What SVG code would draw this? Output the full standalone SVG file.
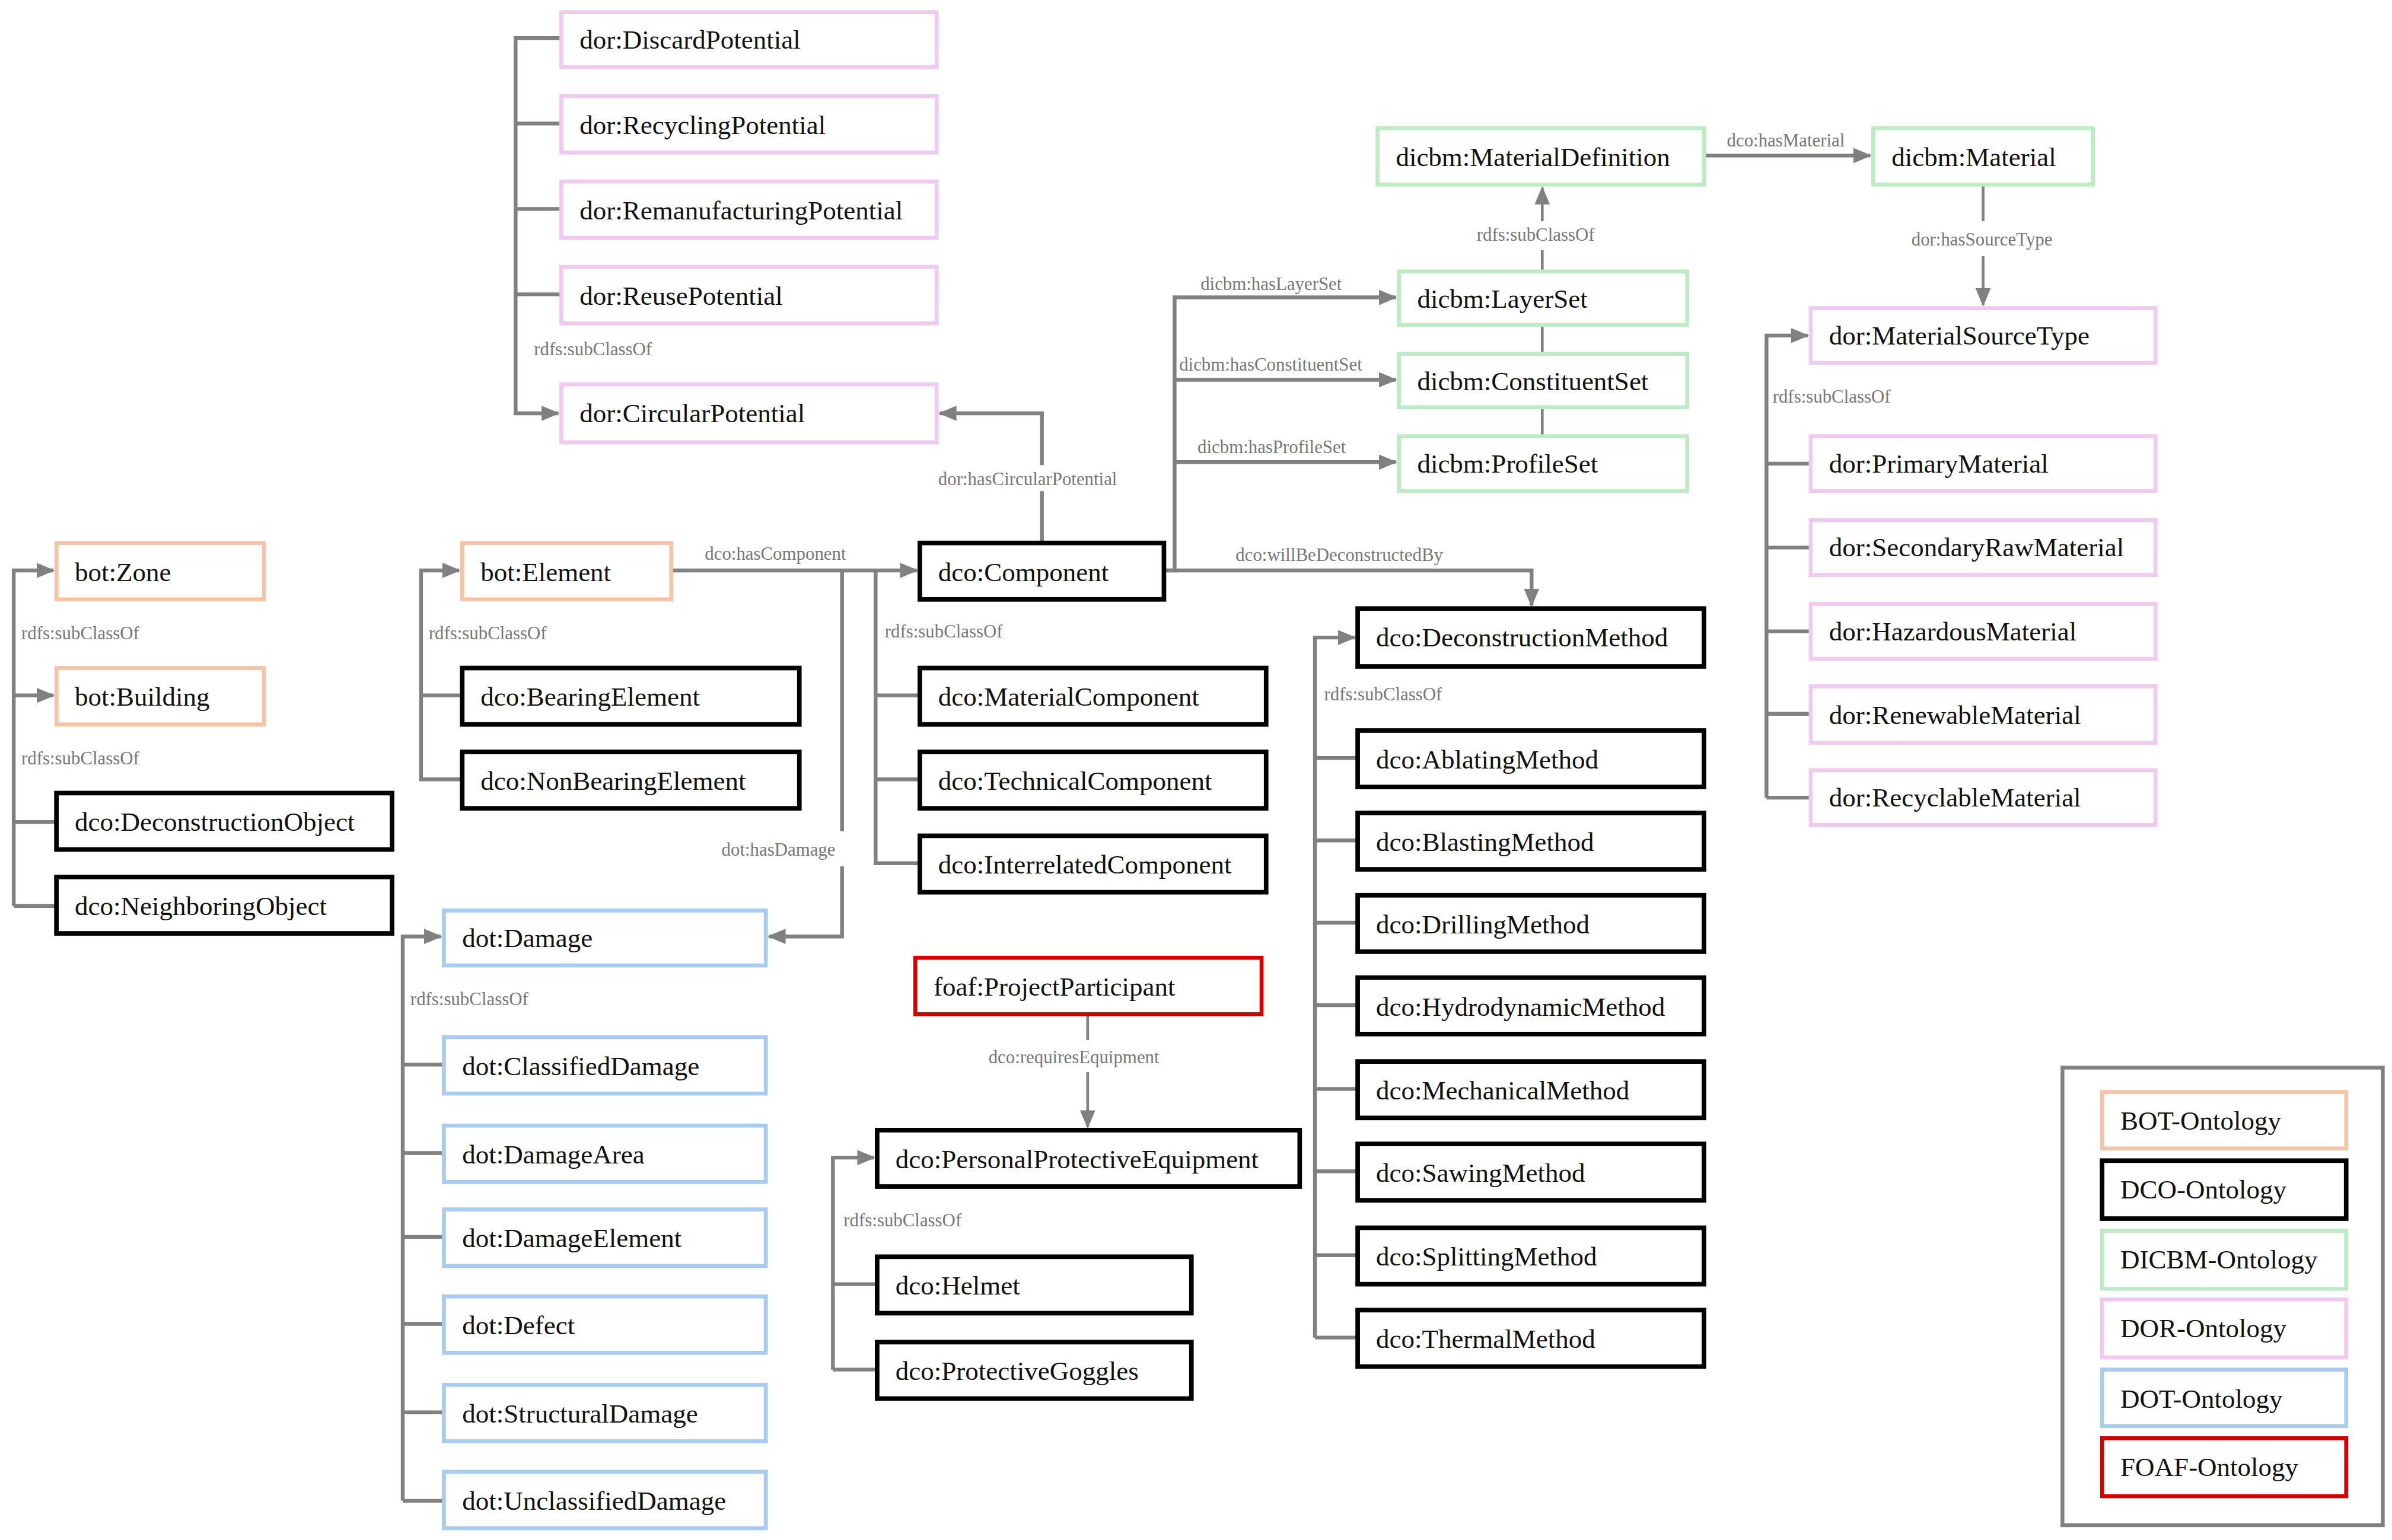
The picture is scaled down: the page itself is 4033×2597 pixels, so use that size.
<svg xmlns="http://www.w3.org/2000/svg" width="4033" height="2597" viewBox="0 0 4033 2597">
<style>
.n rect{fill:#fff;stroke-width:2.6}
.n text{font-family:"Liberation Serif",serif;font-size:17.5px;fill:#111;dominant-baseline:central}
.bot rect{stroke:#f7c3a6}.dco rect{stroke:#000;stroke-width:3}.dicbm rect{stroke:#bdebc3}.dor rect{stroke:#f0c9ee}.dot rect{stroke:#a9cbef}.foaf rect{stroke:#d40000}
#edges path{fill:none;stroke:#808080;stroke-width:2.5}
#edges .a{marker-end:url(#ah)}
#edges .t{stroke-width:1.8}
.l{font-family:"Liberation Serif",serif;font-size:12px;fill:#777}
</style>
<defs><marker id="ah" markerUnits="userSpaceOnUse" markerWidth="12" markerHeight="12" viewBox="0 0 12 12" refX="11" refY="6" orient="auto"><path d="M0,1 L12,6 L0,11 z" fill="#808080"/></marker></defs>
<rect width="4033" height="2597" fill="#fff"/>
<g transform="scale(2.572)">
<g id="edges">
<path d="M368,25 H338 V271 H366" class="a"/><path d="M338,81 H368 M338,137 H368 M338,193 H368"/>
<path d="M9,594 V374 H35" class="a"/><path d="M9,456 H35" class="a"/><path d="M9,539 H37 M9,594 H37"/>
<path d="M303,511 H276 V374 H301" class="a"/><path d="M276,456 H303"/>
<path d="M440,374 H601" class="a"/>
<path d="M574,374 V566 H603 M574,456 H603 M574,511 H603"/>
<path d="M552,374 V545"/><path d="M552,568 V614 H504" class="a"/>
<path d="M264,984 V614 H289" class="a"/><path d="M264,698 H291 M264,756 H291 M264,811 H291 M264,868 H291 M264,926 H291 M264,984 H291"/>
<path d="M683,356 V322"/><path d="M683,305 V271 H616" class="a"/>
<path d="M763,374 H770 V195 H915" class="a"/><path d="M770,249 H915" class="a"/><path d="M770,303 H915" class="a"/>
<path d="M763,374 H1004 V397" class="a"/>
<path class="t" d="M1011,213 V232 M1011,267 V286 M1011,178 V164"/><path class="t a" d="M1011,145 V123"/>
<path d="M1117,102 H1226" class="a"/>
<path class="t" d="M1300,121 V145"/><path class="t a" d="M1300,168 V200"/>
<path d="M1158,523 V220 H1185" class="a"/><path d="M1158,304 H1187 M1158,359 H1187 M1158,414 H1187 M1158,468 H1187 M1158,523 H1187"/>
<path d="M862,877 V418 H888" class="a"/><path d="M862,497 H890 M862,551 H890 M862,605 H890 M862,659 H890 M862,714 H890 M862,768 H890 M862,823 H890 M862,877 H890"/>
<path class="t" d="M713,665 V682"/><path class="t a" d="M713,703 V739"/>
<path d="M546,898 V759 H573" class="a"/><path d="M546,842 H575 M546,898 H575"/>
</g>
<g>
<text class="l" x="350" y="233">rdfs:subClassOf</text>
<text class="l" x="14" y="419">rdfs:subClassOf</text>
<text class="l" x="14" y="501">rdfs:subClassOf</text>
<text class="l" x="281" y="419">rdfs:subClassOf</text>
<text class="l" x="462" y="367">dco:hasComponent</text>
<text class="l" x="580" y="418">rdfs:subClassOf</text>
<text class="l" x="473" y="561">dot:hasDamage</text>
<text class="l" x="269" y="659">rdfs:subClassOf</text>
<text class="l" x="615" y="318">dor:hasCircularPotential</text>
<text class="l" x="787" y="190">dicbm:hasLayerSet</text>
<text class="l" x="773" y="243">dicbm:hasConstituentSet</text>
<text class="l" x="785" y="297">dicbm:hasProfileSet</text>
<text class="l" x="810" y="368">dco:willBeDeconstructedBy</text>
<text class="l" x="968" y="158">rdfs:subClassOf</text>
<text class="l" x="1132" y="96">dco:hasMaterial</text>
<text class="l" x="1253" y="161">dor:hasSourceType</text>
<text class="l" x="1162" y="264">rdfs:subClassOf</text>
<text class="l" x="868" y="459">rdfs:subClassOf</text>
<text class="l" x="648" y="697">dco:requiresEquipment</text>
<text class="l" x="553" y="804">rdfs:subClassOf</text>
</g>
<g id="dor_DiscardPotential" class="n dor"><rect x="368" y="8" width="246" height="36"/><text x="380" y="26">dor:DiscardPotential</text></g>
<g id="dor_RecyclingPotential" class="n dor"><rect x="368" y="63" width="246" height="37"/><text x="380" y="82">dor:RecyclingPotential</text></g>
<g id="dor_RemanufacturingPotential" class="n dor"><rect x="368" y="119" width="246" height="37"/><text x="380" y="138">dor:RemanufacturingPotential</text></g>
<g id="dor_ReusePotential" class="n dor"><rect x="368" y="175" width="246" height="37"/><text x="380" y="194">dor:ReusePotential</text></g>
<g id="dor_CircularPotential" class="n dor"><rect x="368" y="252" width="246" height="38"/><text x="380" y="271">dor:CircularPotential</text></g>
<g id="bot_Zone" class="n bot"><rect x="37" y="356" width="136" height="37"/><text x="49" y="375">bot:Zone</text></g>
<g id="bot_Building" class="n bot"><rect x="37" y="438" width="136" height="37"/><text x="49" y="457">bot:Building</text></g>
<g id="dco_DeconstructionObject" class="n dco"><rect x="37" y="520" width="220" height="37"/><text x="49" y="539">dco:DeconstructionObject</text></g>
<g id="dco_NeighboringObject" class="n dco"><rect x="37" y="575" width="220" height="37"/><text x="49" y="594">dco:NeighboringObject</text></g>
<g id="bot_Element" class="n bot"><rect x="303" y="356" width="137" height="37"/><text x="315" y="375">bot:Element</text></g>
<g id="dco_BearingElement" class="n dco"><rect x="303" y="438" width="221" height="37"/><text x="315" y="457">dco:BearingElement</text></g>
<g id="dco_NonBearingElement" class="n dco"><rect x="303" y="493" width="221" height="37"/><text x="315" y="512">dco:NonBearingElement</text></g>
<g id="dco_Component" class="n dco"><rect x="603" y="356" width="160" height="37"/><text x="615" y="375">dco:Component</text></g>
<g id="dco_MaterialComponent" class="n dco"><rect x="603" y="438" width="227" height="37"/><text x="615" y="457">dco:MaterialComponent</text></g>
<g id="dco_TechnicalComponent" class="n dco"><rect x="603" y="493" width="227" height="37"/><text x="615" y="512">dco:TechnicalComponent</text></g>
<g id="dco_InterrelatedComponent" class="n dco"><rect x="603" y="548" width="227" height="37"/><text x="615" y="567">dco:InterrelatedComponent</text></g>
<g id="dot_Damage" class="n dot"><rect x="291" y="597" width="211" height="36"/><text x="303" y="615">dot:Damage</text></g>
<g id="dot_ClassifiedDamage" class="n dot"><rect x="291" y="680" width="211" height="37"/><text x="303" y="699">dot:ClassifiedDamage</text></g>
<g id="dot_DamageArea" class="n dot"><rect x="291" y="738" width="211" height="37"/><text x="303" y="757">dot:DamageArea</text></g>
<g id="dot_DamageElement" class="n dot"><rect x="291" y="793" width="211" height="37"/><text x="303" y="812">dot:DamageElement</text></g>
<g id="dot_Defect" class="n dot"><rect x="291" y="850" width="211" height="37"/><text x="303" y="869">dot:Defect</text></g>
<g id="dot_StructuralDamage" class="n dot"><rect x="291" y="908" width="211" height="37"/><text x="303" y="927">dot:StructuralDamage</text></g>
<g id="dot_UnclassifiedDamage" class="n dot"><rect x="291" y="965" width="211" height="37"/><text x="303" y="984">dot:UnclassifiedDamage</text></g>
<g id="dicbm_MaterialDefinition" class="n dicbm"><rect x="903" y="84" width="214" height="37"/><text x="915" y="103">dicbm:MaterialDefinition</text></g>
<g id="dicbm_Material" class="n dicbm"><rect x="1228" y="84" width="144" height="37"/><text x="1240" y="103">dicbm:Material</text></g>
<g id="dicbm_LayerSet" class="n dicbm"><rect x="917" y="178" width="189" height="35"/><text x="929" y="196">dicbm:LayerSet</text></g>
<g id="dicbm_ConstituentSet" class="n dicbm"><rect x="917" y="232" width="189" height="35"/><text x="929" y="250">dicbm:ConstituentSet</text></g>
<g id="dicbm_ProfileSet" class="n dicbm"><rect x="917" y="286" width="189" height="36"/><text x="929" y="304">dicbm:ProfileSet</text></g>
<g id="dor_MaterialSourceType" class="n dor"><rect x="1187" y="202" width="226" height="36"/><text x="1199" y="220">dor:MaterialSourceType</text></g>
<g id="dor_PrimaryMaterial" class="n dor"><rect x="1187" y="286" width="226" height="36"/><text x="1199" y="304">dor:PrimaryMaterial</text></g>
<g id="dor_SecondaryRawMaterial" class="n dor"><rect x="1187" y="341" width="226" height="36"/><text x="1199" y="359">dor:SecondaryRawMaterial</text></g>
<g id="dor_HazardousMaterial" class="n dor"><rect x="1187" y="396" width="226" height="36"/><text x="1199" y="414">dor:HazardousMaterial</text></g>
<g id="dor_RenewableMaterial" class="n dor"><rect x="1187" y="450" width="226" height="37"/><text x="1199" y="469">dor:RenewableMaterial</text></g>
<g id="dor_RecyclableMaterial" class="n dor"><rect x="1187" y="505" width="226" height="36"/><text x="1199" y="523">dor:RecyclableMaterial</text></g>
<g id="dco_DeconstructionMethod" class="n dco"><rect x="890" y="399" width="227" height="38"/><text x="902" y="418">dco:DeconstructionMethod</text></g>
<g id="dco_AblatingMethod" class="n dco"><rect x="890" y="479" width="227" height="37"/><text x="902" y="498">dco:AblatingMethod</text></g>
<g id="dco_BlastingMethod" class="n dco"><rect x="890" y="533" width="227" height="37"/><text x="902" y="552">dco:BlastingMethod</text></g>
<g id="dco_DrillingMethod" class="n dco"><rect x="890" y="587" width="227" height="37"/><text x="902" y="606">dco:DrillingMethod</text></g>
<g id="dco_HydrodynamicMethod" class="n dco"><rect x="890" y="641" width="227" height="37"/><text x="902" y="660">dco:HydrodynamicMethod</text></g>
<g id="dco_MechanicalMethod" class="n dco"><rect x="890" y="696" width="227" height="37"/><text x="902" y="715">dco:MechanicalMethod</text></g>
<g id="dco_SawingMethod" class="n dco"><rect x="890" y="750" width="227" height="37"/><text x="902" y="769">dco:SawingMethod</text></g>
<g id="dco_SplittingMethod" class="n dco"><rect x="890" y="805" width="227" height="37"/><text x="902" y="824">dco:SplittingMethod</text></g>
<g id="dco_ThermalMethod" class="n dco"><rect x="890" y="859" width="227" height="37"/><text x="902" y="878">dco:ThermalMethod</text></g>
<g id="foaf_ProjectParticipant" class="n foaf"><rect x="600" y="628" width="227" height="37"/><text x="612" y="647">foaf:ProjectParticipant</text></g>
<g id="dco_PersonalProtectiveEquipment" class="n dco"><rect x="575" y="741" width="277" height="37"/><text x="587" y="760">dco:PersonalProtectiveEquipment</text></g>
<g id="dco_Helmet" class="n dco"><rect x="575" y="824" width="206" height="37"/><text x="587" y="843">dco:Helmet</text></g>
<g id="dco_ProtectiveGoggles" class="n dco"><rect x="575" y="880" width="206" height="37"/><text x="587" y="899">dco:ProtectiveGoggles</text></g>
<g id="legend">
<rect x="1352" y="700" width="210" height="300" fill="#fff" stroke="#808080" stroke-width="2.5"/>
<g class="n bot"><rect x="1378" y="716" width="160" height="37"/><text x="1390" y="735">BOT-Ontology</text></g>
<g class="n dco"><rect x="1378" y="761" width="160" height="38"/><text x="1390" y="780">DCO-Ontology</text></g>
<g class="n dicbm"><rect x="1378" y="807" width="160" height="38"/><text x="1390" y="826">DICBM-Ontology</text></g>
<g class="n dor"><rect x="1378" y="852" width="160" height="38"/><text x="1390" y="871">DOR-Ontology</text></g>
<g class="n dot"><rect x="1378" y="898" width="160" height="37"/><text x="1390" y="917">DOT-Ontology</text></g>
<g class="n foaf"><rect x="1378" y="943" width="160" height="38"/><text x="1390" y="962">FOAF-Ontology</text></g>
</g>
</g>
</svg>
